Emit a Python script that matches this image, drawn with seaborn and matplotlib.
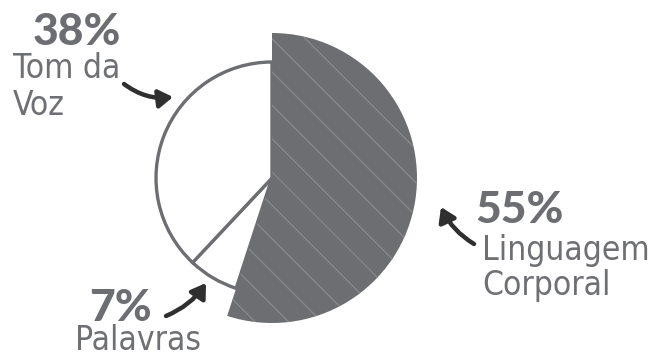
import matplotlib
matplotlib.use("Agg")
import matplotlib.pyplot as plt
import seaborn as sns

# ---- data ----
categories = ["Linguagem\nCorporal", "Palavras", "Tom da\nVoz"]
values = [55, 7, 38]
pct_labels = ["55%", "7%", "38%"]

sns.set_theme(style="white")
plt.rcParams['hatch.linewidth'] = 0.9

GRAY = "#6d6e71"
TXT = "#6f7073"
ARROW = "#2f2f2f"

W, H = 651, 358
fig = plt.figure(figsize=(W / 100, H / 100), dpi=100)
ax = fig.add_axes([0, 0, 1, 1])

cx, cy = 272, 180
r_small, r_big = 116, 145

wedges, _ = ax.pie(values, startangle=90, counterclock=False,
                   center=(cx, cy), radius=r_small,
                   colors=[GRAY, "white", "white"],
                   wedgeprops=dict(edgecolor=GRAY, linewidth=2.4))
dark = wedges[0]
dark.set_radius(r_big)
dark.set_edgecolor("#898a8d")
dark.set_linewidth(0)
dark.set_hatch("\\")
for w in wedges[1:]:
    w.set_zorder(1)
dark.set_zorder(2)

ax.set_xlim(0, W)
ax.set_ylim(0, H)
ax.set_aspect("equal")
ax.set_axis_off()

num_font = dict(family=["Lato", "DejaVu Sans"], weight=900, fontsize=32, color=GRAY)
lab_font = dict(family=["DejaVu Sans"], fontstretch="condensed", fontsize=24,
                color=TXT)

# 38% Tom da Voz
ax.text(33, 313, pct_labels[2], va="baseline", ha="left", **num_font)
ax.text(13, 280, "Tom da", va="baseline", ha="left", **lab_font)
ax.text(13, 243, "Voz", va="baseline", ha="left", **lab_font)
# 55% Linguagem Corporal
ax.text(475, 135, pct_labels[0], va="baseline", ha="left", **num_font)
ax.text(482, 98, "Linguagem", va="baseline", ha="left", **lab_font)
ax.text(482, 63, "Corporal", va="baseline", ha="left", **lab_font)
# 7% Palavras
ax.text(89, 37, pct_labels[1], va="baseline", ha="left", **num_font)
ax.text(75, 8, "Palavras", va="baseline", ha="left", **lab_font)

ap = dict(arrowstyle="-|>,head_length=0.7,head_width=0.45", lw=3.2, color=ARROW,
          shrinkA=0, shrinkB=0)
ax.annotate("", xy=(173, 261), xytext=(124, 274),
            arrowprops=dict(connectionstyle="arc3,rad=0.2", **ap))
ax.annotate("", xy=(441, 151), xytext=(474, 114),
            arrowprops=dict(connectionstyle="arc3,rad=-0.15", **ap))
ax.annotate("", xy=(206, 75), xytext=(166, 42),
            arrowprops=dict(connectionstyle="arc3,rad=0.15", **ap))

fig.savefig("out.png", dpi=100)
